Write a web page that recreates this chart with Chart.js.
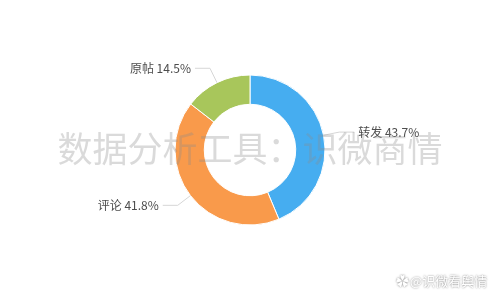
<!DOCTYPE html>
<html>
<head>
<meta charset="utf-8">
<script src="https://cdn.jsdelivr.net/npm/chart.js@4"></script>
<style>
html,body{margin:0;padding:0;background:#fff;}
#wrap{width:500px;height:300px;position:relative;}
</style>
</head>
<body>
<div id="wrap"><canvas id="c" width="500" height="300"></canvas></div>
<script>
const categories = ['转发', '评论', '原帖'];
const values = [43.7, 41.8, 14.5];
const colors = ['#46adf0', '#f99a4b', '#a8c65b'];
const watermark = '数据分析工具：识微商情';
const signature = '@识微看舆情';

const labelPlugin = {
  id: 'outLabels',
  afterDatasetsDraw(chart) {
    const ctx = chart.ctx;
    const meta = chart.getDatasetMeta(0);
    ctx.save();
    ctx.font = '12px "Noto Sans CJK SC", sans-serif';
    meta.data.forEach((arc, i) => {
      const p = arc.getProps(['x','y','startAngle','endAngle','outerRadius'], true);
      const mid = (p.startAngle + p.endAngle) / 2;
      const cos = Math.cos(mid), sin = Math.sin(mid);
      const x0 = p.x + cos * p.outerRadius, y0 = p.y + sin * p.outerRadius;
      const x1 = p.x + cos * (p.outerRadius + 16), y1 = p.y + sin * (p.outerRadius + 16);
      const dir = cos >= 0 ? 1 : -1;
      const x2 = x1 + dir * 15;
      ctx.strokeStyle = '#d6d6d6';
      ctx.lineWidth = 1;
      ctx.beginPath();
      ctx.moveTo(x0, y0);
      ctx.lineTo(x1, y1);
      ctx.lineTo(x2, y1);
      ctx.stroke();
      ctx.fillStyle = '#4d4d4d';
      ctx.textBaseline = 'middle';
      ctx.textAlign = dir > 0 ? 'left' : 'right';
      ctx.fillText(categories[i] + ' ' + values[i].toFixed(1) + '%', x2 + dir * 4, y1);
    });
    ctx.restore();
  },
  afterDraw(chart) {
    const ctx = chart.ctx;
    ctx.save();
    ctx.font = '35px "Noto Sans CJK SC", sans-serif';
    ctx.fillStyle = 'rgba(140,140,140,0.32)';
    ctx.textAlign = 'center';
    ctx.textBaseline = 'middle';
    ctx.fillText(watermark, 250, 149);
    ctx.font = '13px "Noto Sans CJK SC", sans-serif';
    ctx.textAlign = 'left';
    ctx.shadowColor = 'rgba(0,0,0,0.55)';
    ctx.shadowBlur = 2;
    ctx.fillStyle = '#fff';
    ctx.fillText('✿', 396, 281);
    ctx.fillText(signature, 410, 281);
    ctx.restore();
  }
};

new Chart(document.getElementById('c'), {
  type: 'doughnut',
  data: {
    labels: categories,
    datasets: [{
      data: values,
      backgroundColor: colors,
      borderColor: '#ffffff',
      borderWidth: 1,
      hoverOffset: 0,
      radius: 75
    }]
  },
  options: {
    responsive: false,
    animation: false,
    events: [],
    cutout: '61%',
    plugins: { legend: { display: false }, tooltip: { enabled: false } }
  },
  plugins: [labelPlugin]
});
</script>
</body>
</html>
